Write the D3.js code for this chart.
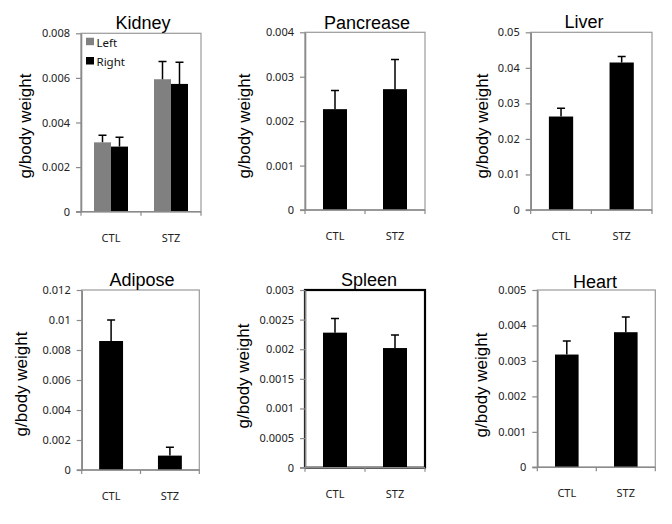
<!DOCTYPE html>
<html>
<head>
<meta charset="utf-8">
<script src="https://cdn.jsdelivr.net/npm/d3@7"></script>
<style>
  html, body { margin: 0; padding: 0; background: #fff; }
  svg { display: block; }
</style>
</head>
<body>
<svg id="chart" width="672" height="524"></svg>
<script>
// ---------------- DATA ----------------
const categories = ["CTL", "STZ"];

const kidneySeries = ["Left", "Right"];
const kidneyLeft = [0.00311, 0.00594];
const kidneyLeftErr = [0.00032, 0.00079];
const kidneyRight = [0.00292, 0.00573];
const kidneyRightErr = [0.00042, 0.00097];
const kidneyTicks = [0, 0.002, 0.004, 0.006, 0.008];
const kidneyTickLabels = ["0", "0.002", "0.004", "0.006", "0.008"];

const pancreasValues = [0.00227, 0.00272];
const pancreasErr = [0.00042, 0.00067];
const pancreasTicks = [0, 0.001, 0.002, 0.003, 0.004];
const pancreasTickLabels = ["0", "0.001", "0.002", "0.003", "0.004"];

const liverValues = [0.0263, 0.0415];
const liverErr = [0.0023, 0.0017];
const liverTicks = [0, 0.01, 0.02, 0.03, 0.04, 0.05];
const liverTickLabels = ["0", "0.01", "0.02", "0.03", "0.04", "0.05"];

const adiposeValues = [0.0086, 0.00096];
const adiposeErr = [0.0014, 0.00055];
const adiposeTicks = [0, 0.002, 0.004, 0.006, 0.008, 0.01, 0.012];
const adiposeTickLabels = ["0", "0.002", "0.004", "0.006", "0.008", "0.01", "0.012"];

const spleenValues = [0.00228, 0.00202];
const spleenErr = [0.00024, 0.00022];
const spleenTicks = [0, 0.0005, 0.001, 0.0015, 0.002, 0.0025, 0.003];
const spleenTickLabels = ["0", "0.0005", "0.001", "0.0015", "0.002", "0.0025", "0.003"];

const heartValues = [0.00318, 0.00381];
const heartErr = [0.00038, 0.00043];
const heartTicks = [0, 0.001, 0.002, 0.003, 0.004, 0.005];
const heartTickLabels = ["0", "0.001", "0.002", "0.003", "0.004", "0.005"];

const yLabel = "g/body weight";

// ---------------- DRAW ----------------
const svg = d3.select("#chart");
const TICK_FONT = "'Noto Sans', 'Open Sans', sans-serif";
const TITLE_FONT = "'Liberation Sans', Arial, sans-serif";
const AXIS_COLOR = "#8a8a8a";

function panel(cfg) {
  const g = svg.append("g");
  const y = d3.scaleLinear().domain([0, cfg.ticks[cfg.ticks.length - 1]]).range([cfg.bottom, cfg.top]);
  const x = d3.scaleBand().domain(categories).range([cfg.left, cfg.right]).paddingInner(0).paddingOuter(0);

  // frame box
  g.append("rect")
    .attr("x", cfg.left).attr("y", cfg.top)
    .attr("width", cfg.right - cfg.left).attr("height", cfg.bottom - cfg.top)
    .attr("fill", "none")
    .attr("stroke", cfg.thickBox ? "#000" : "#9a9a9a")
    .attr("stroke-width", cfg.thickBox ? 2.2 : 1.2);

  // bars
  const series = cfg.series;
  const inner = d3.scaleBand().domain(series.map(s => s.name))
    .range([0, x.bandwidth()]).paddingInner(0).paddingOuter(cfg.outerPad);
  series.forEach(s => {
    const bw = inner.bandwidth();
    g.selectAll(null).data(categories).enter().append("rect")
      .attr("x", (d) => x(d) + inner(s.name))
      .attr("y", (d, i) => y(s.values[i]))
      .attr("width", bw)
      .attr("height", (d, i) => y(0) - y(s.values[i]))
      .attr("fill", s.color);
    // error bars (upper only)
    g.selectAll(null).data(categories).enter().append("path")
      .attr("d", (d, i) => {
        const cx = x(d) + inner(s.name) + bw / 2;
        const top = y(s.values[i] + s.err[i]);
        const base = y(s.values[i]);
        return `M${cx},${base}V${top}M${cx - 4},${top}H${cx + 4}`;
      })
      .attr("fill", "none").attr("stroke", "#000").attr("stroke-width", 1.5);
  });

  // y axis
  const yAxis = d3.axisLeft(y).tickValues(cfg.ticks)
    .tickFormat((d, i) => cfg.tickLabels[i]).tickSize(5).tickSizeOuter(0).tickPadding(6);
  const ya = g.append("g").attr("transform", `translate(${cfg.left},0)`).call(yAxis);
  ya.select(".domain").attr("stroke", AXIS_COLOR).attr("stroke-width", 1.6);
  ya.selectAll(".tick line").attr("stroke", AXIS_COLOR).attr("stroke-width", 1.2);
  ya.selectAll(".tick text").attr("font-family", TICK_FONT).attr("font-size", 11).attr("fill", "#222");

  // x axis line + boundary ticks
  g.append("line").attr("x1", cfg.left - 5).attr("x2", cfg.right)
    .attr("y1", cfg.bottom).attr("y2", cfg.bottom)
    .attr("stroke", AXIS_COLOR).attr("stroke-width", 1.6);
  const bounds = [x(categories[0]), x(categories[1]), x(categories[1]) + x.bandwidth()];
  g.selectAll(null).data(bounds).enter().append("line")
    .attr("x1", d => d).attr("x2", d => d)
    .attr("y1", cfg.bottom).attr("y2", cfg.bottom + 4)
    .attr("stroke", AXIS_COLOR).attr("stroke-width", 1.2);
  g.selectAll(null).data(categories).enter().append("text")
    .attr("x", d => x(d) + x.bandwidth() / 2)
    .attr("y", cfg.bottom + 30)
    .attr("text-anchor", "middle")
    .attr("font-family", TICK_FONT).attr("font-size", 11).attr("fill", "#222")
    .text(d => d);

  // title
  g.append("text").attr("x", cfg.titleX).attr("y", cfg.titleY)
    .attr("text-anchor", "middle").attr("font-family", TITLE_FONT).attr("font-size", 18)
    .attr("fill", "#000").text(cfg.title);

  // y label
  g.append("text")
    .attr("transform", `translate(${cfg.labelX},${cfg.labelY}) rotate(-90)`)
    .attr("text-anchor", "middle").attr("dominant-baseline", "central")
    .attr("font-family", TITLE_FONT).attr("font-size", 17).attr("fill", "#000")
    .text(yLabel);

  return { g, x, y };
}

// Kidney
const kid = panel({
  title: "Kidney", titleX: 143, titleY: 28.5,
  left: 81, right: 201, top: 33.3, bottom: 211.7,
  ticks: kidneyTicks, tickLabels: kidneyTickLabels,
  labelX: 25, labelY: 126,
  outerPad: 0.765,
  series: [
    { name: kidneySeries[0], values: kidneyLeft, err: kidneyLeftErr, color: "#808080" },
    { name: kidneySeries[1], values: kidneyRight, err: kidneyRightErr, color: "#000" }
  ]
});
// legend
const legend = kid.g.append("g");
const legendColors = ["#808080", "#000"];
kidneySeries.forEach((s, i) => {
  legend.append("rect").attr("x", 86).attr("y", 37.7 + i * 19.3).attr("width", 8).attr("height", 7.5)
    .attr("fill", legendColors[i]);
  legend.append("text").attr("x", 96.5).attr("y", 46.5 + i * 19.3)
    .attr("font-family", TICK_FONT).attr("font-size", 11.5).attr("fill", "#111").text(s);
});

panel({
  title: "Pancrease", titleX: 367, titleY: 29.3,
  left: 305, right: 425, top: 32.3, bottom: 210,
  ticks: pancreasTicks, tickLabels: pancreasTickLabels,
  labelX: 244, labelY: 126, outerPad: 0.75,
  series: [{ name: "v", values: pancreasValues, err: pancreasErr, color: "#000" }]
});

panel({
  title: "Liver", titleX: 584, titleY: 28.3,
  left: 530.7, right: 652, top: 32.3, bottom: 210,
  ticks: liverTicks, tickLabels: liverTickLabels,
  labelX: 482, labelY: 126, outerPad: 0.75,
  series: [{ name: "v", values: liverValues, err: liverErr, color: "#000" }]
});

panel({
  title: "Adipose", titleX: 142, titleY: 286,
  left: 81.7, right: 199.3, top: 290, bottom: 470,
  ticks: adiposeTicks, tickLabels: adiposeTickLabels,
  labelX: 21, labelY: 384, outerPad: 0.73,
  series: [{ name: "v", values: adiposeValues, err: adiposeErr, color: "#000" }]
});

panel({
  title: "Spleen", titleX: 369, titleY: 286,
  left: 305, right: 425, top: 290, bottom: 467.7, thickBox: true,
  ticks: spleenTicks, tickLabels: spleenTickLabels,
  labelX: 243, labelY: 376, outerPad: 0.75,
  series: [{ name: "v", values: spleenValues, err: spleenErr, color: "#000" }]
});

panel({
  title: "Heart", titleX: 595, titleY: 288.3,
  left: 537.3, right: 655.3, top: 290, bottom: 467.3,
  ticks: heartTicks, tickLabels: heartTickLabels,
  labelX: 481, labelY: 385, outerPad: 0.75,
  series: [{ name: "v", values: heartValues, err: heartErr, color: "#000" }]
});
</script>
</body>
</html>
